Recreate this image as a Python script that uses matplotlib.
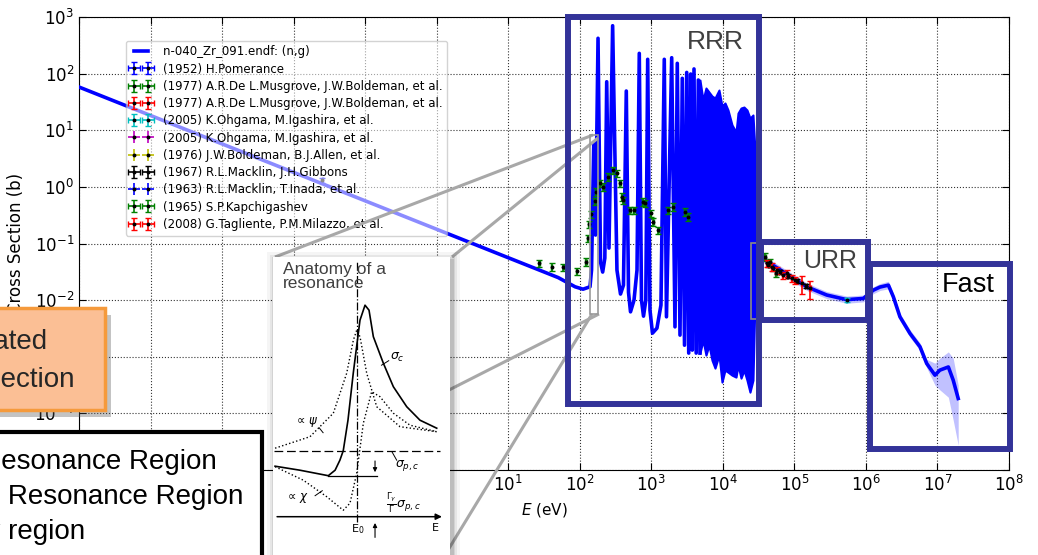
import matplotlib
matplotlib.use("Agg")
import matplotlib.pyplot as plt
import matplotlib.patches as patches
from matplotlib.ticker import NullLocator

W, H, DPI = 1038, 555, 100
BOX = "#333399"
SANS = ["Liberation Sans", "DejaVu Sans"]

# ENDF (n,g) curve: 1/v part and resolved resonances (valley / peak values)
ENDF_E = [1e-5, 50, 86, 111, 139, 146, 157, 166, 180, 195, 209, 224, 238, 256, 288,
          331, 371, 408, 447, 480, 512, 573, 631, 679, 729, 778, 838, 890, 958,
          1038, 1199, 1364, 1518, 1629, 1927, 2143, 2307, 2518, 2710, 2911, 3126,
          3334, 3551, 3740, 3951, 4240, 4540, 4790]
ENDF_XS = [58, 0.025, 0.0172, 0.0156, 0.0172, 0.0339, 6.0, 0.141, 421, 0.0469, 0.0313,
           0.0552, 71.9, 0.083, 701, 0.0339, 0.0128, 0.0184, 49.3, 0.0138, 0.00621,
           0.0100, 0.0339, 228, 0.0100, 0.00521, 0.0100, 179, 0.00665, 0.00261,
           0.0032, 0.00816, 179, 0.00507, 191, 0.00337, 152, 0.00241, 82.6, 0.0016,
           105, 0.00116, 98.4, 0.00131, 121, 0.00116, 77.1, 0.00116]

# dense block at the top of the RRR (upper / lower envelope)
DENSE_E = [4786, 5277, 5808, 6397, 7050, 7766, 8831, 9727, 10715, 11800, 13430,
           15280, 16290, 17950, 19740, 21740, 23940, 26370, 28120]
DENSE_HI = [77.1, 34.2, 55.7, 47.3, 40.2, 37.1, 51.3, 26.8, 30.3, 22.8, 12.4, 9.3,
            20.1, 24.7, 25.7, 22.8, 16.4, 18.6, 4.47]
DENSE_LO = [1.16e-3, 1.96e-3, 1.07e-3, 1.60e-3, 8.7e-4, 6.3e-4, 1.07e-3, 3.56e-4,
            5.8e-4, 5.35e-4, 4.73e-4, 4.37e-4, 7.1e-4, 4.19e-4, 5.8e-4, 3.86e-4,
            2.37e-4, 3.86e-4, 0.01]

# URR + fast range with uncertainty band
HIGH_E = [3.0e4, 3.88e4, 7.0e4, 1.49e5, 2.83e5, 5.38e5, 9.19e5, 1.27e6, 1.57e6, 2.06e6,
          2.42e6, 2.99e6, 4.13e6, 5.7e6, 7.07e6, 9.23e6, 1.08e7, 1.42e7, 1.66e7, 1.95e7]
HIGH_XS = [0.0624, 0.0509, 0.0316, 0.0172, 0.0123, 0.0102, 0.0107, 0.0150, 0.0170, 0.0184,
           0.0114, 0.00507, 0.00258, 0.0015, 7.6e-4, 4.73e-4, 5.8e-4, 6.6e-4, 3.86e-4, 1.83e-4]
HIGH_HI = [0.072, 0.059, 0.037, 0.020, 0.0142, 0.0118, 0.0123, 0.0172, 0.0196, 0.0215,
           0.0132, 0.0058, 0.0030, 0.00175, 9.0e-4, 7.7e-4, 9.4e-4, 1.22e-3, 9.4e-4, 3.15e-4]
HIGH_LO = [0.054, 0.044, 0.027, 0.0149, 0.0106, 0.0088, 0.0093, 0.0130, 0.0148, 0.0158,
           0.0099, 0.0044, 0.0022, 0.0013, 6.4e-4, 3.15e-4, 2.6e-4, 1.93e-4, 7.6e-5, 2.74e-5]

# experimental points (EXFOR)
POM_E, POM_XS = [0.0253], [1.3]
MUS_G_E, MUS_G_XS = [3.88e4, 4.56e4, 5.53e4], [0.0582, 0.0469, 0.0296]
MUS_R_E, MUS_R_XS = [1.26e5, 1.65e5], [0.0197, 0.0161]
OHG_C_E, OHG_C_XS = [5.38e5], [0.0100]
MAC67_E = [4.3e4, 5.0e4, 6.3e4, 8.1e4, 1.09e5, 1.45e5]
MAC67_XS = [0.0415, 0.0362, 0.0313, 0.0265, 0.0217, 0.0179]
KAP_E = [27.2, 40.3, 59.2, 90.6, 122, 129, 135, 142, 163, 169, 192, 213, 251, 294, 328,
         365, 385, 406, 503, 573, 759, 817, 980, 1067, 1253, 1727, 2028, 2958, 3289]
KAP_XS = [0.0445, 0.0387, 0.0379, 0.0325, 0.0475, 0.123, 0.217, 0.330, 0.561, 0.818, 1.15,
          1.0, 1.51, 1.98, 1.73, 1.15, 0.668, 0.585, 0.389, 0.389, 0.546, 0.512, 0.340,
          0.242, 0.173, 0.389, 0.445, 0.363, 0.296]
TAG_E = [4.1e4, 4.82e4, 5.66e4, 6.86e4, 7.8e4, 9.16e4, 1.02e5]
TAG_XS = [0.0445, 0.0387, 0.0339, 0.0277, 0.0296, 0.0242, 0.0226]

# decade ticks; labels that sit under the pasted boxes are left empty
X_TICKS = [10.0 ** k for k in range(-5, 9)]
X_LABELS = [""] * 6 + [r"$\mathdefault{10^{%d}}$" % k for k in range(1, 9)]
Y_TICKS = [10.0 ** k for k in range(-5, 4)]
Y_LABELS = ["", r"$\mathdefault{10^{-4}}$", ""] + [r"$\mathdefault{10^{%d}}$" % k for k in range(-2, 4)]

# schematic "anatomy of a resonance" (arbitrary units, E0 at 0)
SC_X = [-1.02, -0.71, -0.355, -0.27, -0.21, -0.168, -0.109, -0.043, 0.041, 0.104, 0.154,
        0.208, 0.333, 0.458, 0.625, 0.791, 1.0]
SC_Y = [1.01, 0.93, 0.82, 0.93, 1.13, 1.32, 1.93, 2.87, 3.93, 4.23, 4.13, 3.6, 3.07,
        2.6, 2.2, 1.93, 1.77]
PSI_X = [-1.02, -0.584, -0.292, -0.125, -0.042, 0.0, 0.041, 0.125, 0.25, 0.541, 1.0]
PSI_Y = [1.37, 1.6, 2.07, 2.87, 3.53, 3.73, 3.6, 2.87, 2.2, 1.8, 1.7]
CHI_X = [-1.02, -0.667, -0.375, -0.168, -0.084, 0.0, 0.083, 0.187, 0.291, 0.458, 0.666, 1.0]
CHI_Y = [1.0, 0.73, 0.4, 0.13, 0.27, 0.87, 1.87, 2.5, 2.4, 2.07, 1.83, 1.7]
SIG_P = 1.32
SIG_MIN = 0.814

fig = plt.figure(figsize=(W / DPI, H / DPI), dpi=DPI)

# ---- main cross-section plot ----
ax = fig.add_axes([79 / W, 1 - 470 / H, 930 / W, 453 / H])
ax.set_xscale("log")
ax.set_yscale("log")

ax.fill_between(HIGH_E, HIGH_LO, HIGH_HI, color="#3333ff", alpha=0.3, lw=0, zorder=2)
ax.plot(ENDF_E, ENDF_XS, color="blue", lw=2.6, zorder=3, label="n-040_Zr_091.endf: (n,g)")
ax.fill_between(DENSE_E, DENSE_LO, DENSE_HI, color="blue", lw=1.5, zorder=3)
ax.plot(HIGH_E, HIGH_XS, color="blue", lw=2.6, zorder=3)

series = [
    (POM_E, POM_XS, 0.1, "b", "(1952) H.Pomerance"),
    (MUS_G_E, MUS_G_XS, 0.15, "g", "(1977) A.R.De L.Musgrove, J.W.Boldeman, et al."),
    (MUS_R_E, MUS_R_XS, 0.35, "r", "(1977) A.R.De L.Musgrove, J.W.Boldeman, et al."),
    (OHG_C_E, OHG_C_XS, 0.08, "c", "(2005) K.Ohgama, M.Igashira, et al."),
    ([], [], 0.1, "m", "(2005) K.Ohgama, M.Igashira, et al."),
    ([], [], 0.1, "y", "(1976) J.W.Boldeman, B.J.Allen, et al."),
    (MAC67_E, MAC67_XS, 0.08, "k", "(1967) R.L.Macklin, J.H.Gibbons"),
    ([], [], 0.1, "b", "(1963) R.L.Macklin, T.Inada, et al."),
    (KAP_E, KAP_XS, 0.15, "g", "(1965) S.P.Kapchigashev"),
    (TAG_E, TAG_XS, 0.15, "r", "(2008) G.Tagliente, P.M.Milazzo, et al."),
]
for e, xs, rel, c, lab in series:
    ax.errorbar(e, xs, xerr=[0.02 * v for v in e], yerr=[rel * v for v in xs],
                fmt="o", ms=1.8, mfc="k", mec="k", ecolor=c, elinewidth=1.2,
                capsize=2.2, zorder=4, label=lab)

ax.set_xlim(1e-5, 1e8)
ax.set_ylim(1e-5, 1e3)
ax.set_xticks(X_TICKS, X_LABELS)
ax.set_yticks(Y_TICKS, Y_LABELS)
ax.xaxis.set_minor_locator(NullLocator())
ax.yaxis.set_minor_locator(NullLocator())
ax.tick_params(which="both", direction="in", top=True, right=True, labelsize=12, length=5)
ax.grid(True, ls=":", color="k", lw=0.8, alpha=0.8)
ax.set_xlabel("$E$ (eV)", fontsize=11)
ax.set_ylabel("Cross Section (b)", fontsize=12, labelpad=7)

leg = ax.legend(loc="upper left", bbox_to_anchor=(0.0505, 0.948), borderaxespad=0,
                fontsize=8.5, numpoints=2, handlelength=1.8, handletextpad=0.9,
                labelspacing=0.36, borderpad=0.4, framealpha=0.55)
leg.get_frame().set_edgecolor("#b0b0b0")

# ---- annotation layer in pixel units ----
ov = fig.add_axes([0, 0, 1, 1], zorder=5)
ov.set_xlim(0, W)
ov.set_ylim(H, 0)
ov.axis("off")

for x0, y0, x1, y1 in [(275, 257, 593, 135), (452, 257, 598, 138),
                       (599, 314, 445, 392), (592, 314, 445, 555)]:
    ov.plot([x0, x1], [y0, y1], color="#a8a8a8", lw=2.2, solid_capstyle="butt", zorder=1)
ov.add_patch(patches.Rectangle((590, 135), 8, 179, fill=False, ec="#999999", lw=1.2, zorder=2))
ov.add_patch(patches.Rectangle((750.5, 243), 6.5, 76, fill=False, ec="#8c8c80", lw=1.2, zorder=2))

for x0, y0, x1, y1 in [(567.5, 16.5, 758.5, 403.5), (760.5, 242, 867.5, 320),
                       (870, 263.5, 1009.5, 448.5)]:
    ov.add_patch(patches.Rectangle((x0, y0), x1 - x0, y1 - y0, fill=False, ec=BOX,
                                   lw=4.3, joinstyle="miter", zorder=3))
ov.text(715, 42, "RRR", ha="center", va="center", fontsize=19, color="#404040", family=SANS, zorder=4)
ov.text(830, 261, "URR", ha="center", va="center", fontsize=18, color="#404040", family=SANS, zorder=4)
ov.text(968, 285, "Fast", ha="center", va="center", fontsize=19.5, color="black", family=SANS, zorder=4)

# orange label box (runs off the left edge, as in the slide)
ov.add_patch(patches.Rectangle((-4, 315), 115, 102, fc="#555555", alpha=0.35, lw=0, zorder=5))
ov.add_patch(patches.Rectangle((-10, 308), 115, 102, fc="#fbbf95", ec="#f59a3c", lw=2.5, zorder=6))
ov.text(48, 341.7, "Evaluated", ha="right", va="center", fontsize=20, color="#262626", family=SANS, zorder=7)
ov.text(74, 380, "Cross Section", ha="right", va="center", fontsize=20, color="#262626", family=SANS, zorder=7)

# white list box (runs off the left edge, as in the slide)
ov.add_patch(patches.Rectangle((-10, 432), 272, 140, fc="white", ec="black", lw=3, zorder=6))
for txt, xr, yc in [("Resolved Resonance Region", 216.7, 461.7),
                    ("Unresolved Resonance Region", 243.3, 496.7),
                    ("High energy region", 85, 531.7)]:
    ov.text(xr, yc, txt, ha="right", va="center", fontsize=20, color="black", family=SANS, zorder=7)

# soft shadow for the inset picture
for pad, a in [(8, 0.04), (5, 0.06), (3, 0.08), (1.5, 0.1)]:
    ov.add_patch(patches.Rectangle((273 - pad + 2, 257 - pad + 3), 177 + 2 * pad, 330,
                                   fc="k", alpha=a, lw=0, zorder=5))

# ---- inset: anatomy of a resonance ----
ins = fig.add_axes([273 / W, 0, 177 / W, (555 - 257) / H], zorder=7)
ins.set_xlim(-1.046, 1.166)
ins.set_ylim(-0.766, 5.194)
ins.set_xticks([])
ins.set_yticks([])
for s in ins.spines.values():
    s.set_visible(False)

ins.plot(SC_X, SC_Y, color="k", lw=1.2)
ins.plot(PSI_X, PSI_Y, color="k", ls=":", lw=1)
ins.plot(CHI_X, CHI_Y, color="k", ls=":", lw=1)
ins.plot([-1.03, 1.04], [SIG_P, SIG_P], color="k", ls=(0, (7, 3)), lw=0.9)
ins.plot([-0.36, 0.25], [SIG_MIN, SIG_MIN], color="k", lw=0.9)
ins.plot([0, 0], [-0.1, 5.1], color="k", ls="-.", lw=0.9)
ins.annotate("", xy=(1.1, 0), xytext=(-1.03, 0),
             arrowprops=dict(arrowstyle="-|>", color="k", lw=1.1, mutation_scale=9))
ins.annotate("", xy=(0.229, SIG_MIN + 0.02), xytext=(0.229, 1.17),
             arrowprops=dict(arrowstyle="-|>", color="k", lw=0.8, mutation_scale=6))
ins.annotate("", xy=(0.229, -0.07), xytext=(0.229, -0.47),
             arrowprops=dict(arrowstyle="-|>", color="k", lw=0.8, mutation_scale=6))

ins.text(-0.92, 5.1, "Anatomy of a\nresonance", ha="left", va="top", fontsize=12.5,
         color="#404040", family=SANS, linespacing=0.95)
ins.plot([0.31, 0.40], [3.03, 3.12], color="k", lw=0.7)
ins.text(0.41, 3.18, r"$\sigma_c$", fontsize=9, va="center")
ins.plot([0.44, 0.5], [1.3, 1.13], color="k", lw=0.7)
ins.text(0.48, 1.02, r"$\sigma_{p,c}$", fontsize=9, va="center")
ins.plot([-0.47, -0.42], [1.78, 1.68], color="k", lw=0.7)
ins.text(-0.78, 1.9, r"$\propto\,\psi$", fontsize=8.5, va="center")
ins.plot([-0.52, -0.43], [0.42, 0.52], color="k", lw=0.7)
ins.text(-0.9, 0.38, r"$\propto\,\chi$", fontsize=8.5, va="center")
ins.text(0.37, 0.28, r"$\frac{\Gamma_\gamma}{\Gamma}\sigma_{p,c}$", fontsize=9, va="center")
ins.text(0.01, -0.24, r"E$_0$", fontsize=8, ha="center", va="center")
ins.text(0.98, -0.22, "E", fontsize=8, ha="center", va="center")

fig.savefig("out.png", dpi=DPI)
